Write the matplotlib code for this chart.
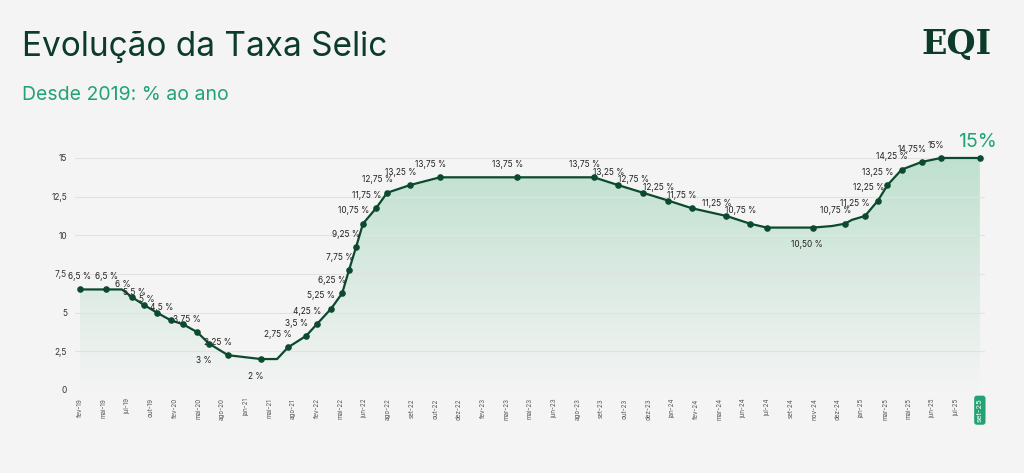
import matplotlib
matplotlib.use("Agg")
import matplotlib.pyplot as plt
import numpy as np
from matplotlib.patches import Polygon

tick_labels = ["fev-19","mai-19","jul-19","out-19","fev-20","mai-20","ago-20","jan-21","mai-21","ago-21",
               "fev-22","mai-22","jun-22","ago-22","set-22","out-22","dez-22","fev-23","mar-23","mai-23",
               "jun-23","ago-23","set-23","out-23","dez-23","jan-24","fev-24","mar-24","jun-24","jul-24",
               "set-24","nov-24","dez-24","jan-25","mar-25","mai-25","jun-25","jul-25","set-25"]
# vertex positions in category-index units
x_pos = [0.0,1.1,1.77,2.2,2.7,3.25,3.84,4.35,4.94,5.45,6.25,7.64,8.32,8.78,9.55,10.0,10.6,11.07,11.36,11.66,
         11.95,12.5,12.97,13.94,15.2,18.45,21.7,22.72,23.78,24.83,25.84,27.3,28.3,29.0,30.95,31.75,
         32.3,32.6,33.15,33.7,34.1,34.7,35.56,36.36,38.0]
values = [6.5,6.5,6.5,6.0,5.5,5.0,4.5,4.25,3.75,3.0,2.25,2.0,2.0,2.75,3.5,4.25,5.25,6.25,7.75,9.25,
          10.75,11.75,12.75,13.25,13.75,13.75,13.75,13.25,12.75,12.25,11.75,11.25,10.75,10.5,10.5,
          10.6,10.75,11.0,11.25,12.25,13.25,14.25,14.75,15.0,15.0]
markers = [1,1,0,1,1,1,1,1,1,1,1,1,0,1,1,1,1,1,1,1,1,1,1,1,1,1,1,1,1,1,1,1,1,1,1,0,1,0,1,1,1,1,1,1,1]
labels = ["6,5 %","6,5 %",None,"6 %","5,5 %","5 %","4,5 %",None,"3,75 %","3 %","2,25 %","2 %",None,
          "2,75 %","3,5 %","4,25 %","5,25 %","6,25 %","7,75 %","9,25 %","10,75 %","11,75 %","12,75 %",
          "13,25 %","13,75 %","13,75 %","13,75 %","13,25 %","12,75 %","12,25 %","11,75 %","11,25 %",
          "10,75 %",None,"10,50 %",None,"10,75 %",None,"11,25 %","12,25 %","13,25 %","14,25 %",
          "14,75%","15%",None]
below = {"3 %","2 %","10,50 %"}
y_ticks = [0,2.5,5,7.5,10,12.5,15]
y_tick_labels = ["0","2,5","5","7,5","10","12,5","15"]

DARK = "#0c4a2f"
GREEN = "#23a374"
fig = plt.figure(figsize=(10.24,4.73), dpi=100)
fig.patch.set_facecolor("#f4f4f4")
ax = fig.add_axes([0.0735, 0.1755, 0.888, 0.4905*15.5/15])
ax.set_facecolor("#f4f4f4")
ax.set_xlim(-0.2, 38.2)
ax.set_ylim(0, 15.5)

xs = np.array(x_pos); ys = np.array(values)
grad = np.linspace(0, 1, 256).reshape(-1, 1)
cmap = matplotlib.colors.LinearSegmentedColormap.from_list("g", ["#f4f4f4", "#bfe0cf"])
im = ax.imshow(grad, extent=[xs.min(), xs.max(), 0, 15], origin="lower", aspect="auto", cmap=cmap, zorder=1)
poly = Polygon(np.column_stack([np.r_[xs[0], xs, xs[-1]], np.r_[0, ys, 0]]), closed=True, transform=ax.transData)
im.set_clip_path(poly)

ax.plot(xs, ys, color=DARK, lw=1.6, zorder=3)
mx = [x for x, m in zip(x_pos, markers) if m]
my = [v for v, m in zip(values, markers) if m]
ax.scatter(mx, my, s=14, color=DARK, zorder=4)
for i, (x, v, l) in enumerate(zip(x_pos, values, labels)):
    if l is None:
        continue
    if l in below:
        ax.annotate(l, (x, v), xytext=(-4, -9), textcoords="offset points", ha="center", va="top", fontsize=6, color="#222", family="Inter")
    else:
        dx = 0 if i < 2 else (-4 if l == "15%" else -7)
        ax.annotate(l, (x, v), xytext=(dx, 6), textcoords="offset points", ha="center", va="bottom", fontsize=6, color="#222", family="Inter")

ax.set_yticks(y_ticks)
ax.set_yticklabels(y_tick_labels, fontsize=6, color="#333", family="Inter")
ax.set_xticks(range(len(tick_labels)))
ax.set_xticklabels(tick_labels, rotation=90, fontsize=4.5, color="#555", family="Inter")
tl = ax.get_xticklabels()[-1]
tl.set_color("white")
tl.set_fontsize(5.5)
tl.set_bbox(dict(facecolor=GREEN, edgecolor="none", boxstyle="round,pad=0.35"))
ax.tick_params(length=0, pad=6)
ax.grid(axis="y", color="#e2e2e2", lw=0.8, zorder=0)
for s in ax.spines.values():
    s.set_visible(False)

ax.annotate("15%", (38, 15), xytext=(-2, 5), textcoords="offset points", ha="center", va="bottom", fontsize=14, color=GREEN, family="Inter")

fig.text(0.021, 0.9, "Evolução da Taxa Selic", fontsize=24, color="#0d3b2a", family="Inter", va="center")
fig.text(0.021, 0.8, "Desde 2019: % ao ano", fontsize=14, color=GREEN, family="Inter", va="center")
fig.text(0.968, 0.905, "EQI", fontsize=24, color="#0d3b2a", family="DejaVu Serif", weight="bold", ha="right", va="center")

fig.savefig("out.png", dpi=100, facecolor=fig.get_facecolor())
